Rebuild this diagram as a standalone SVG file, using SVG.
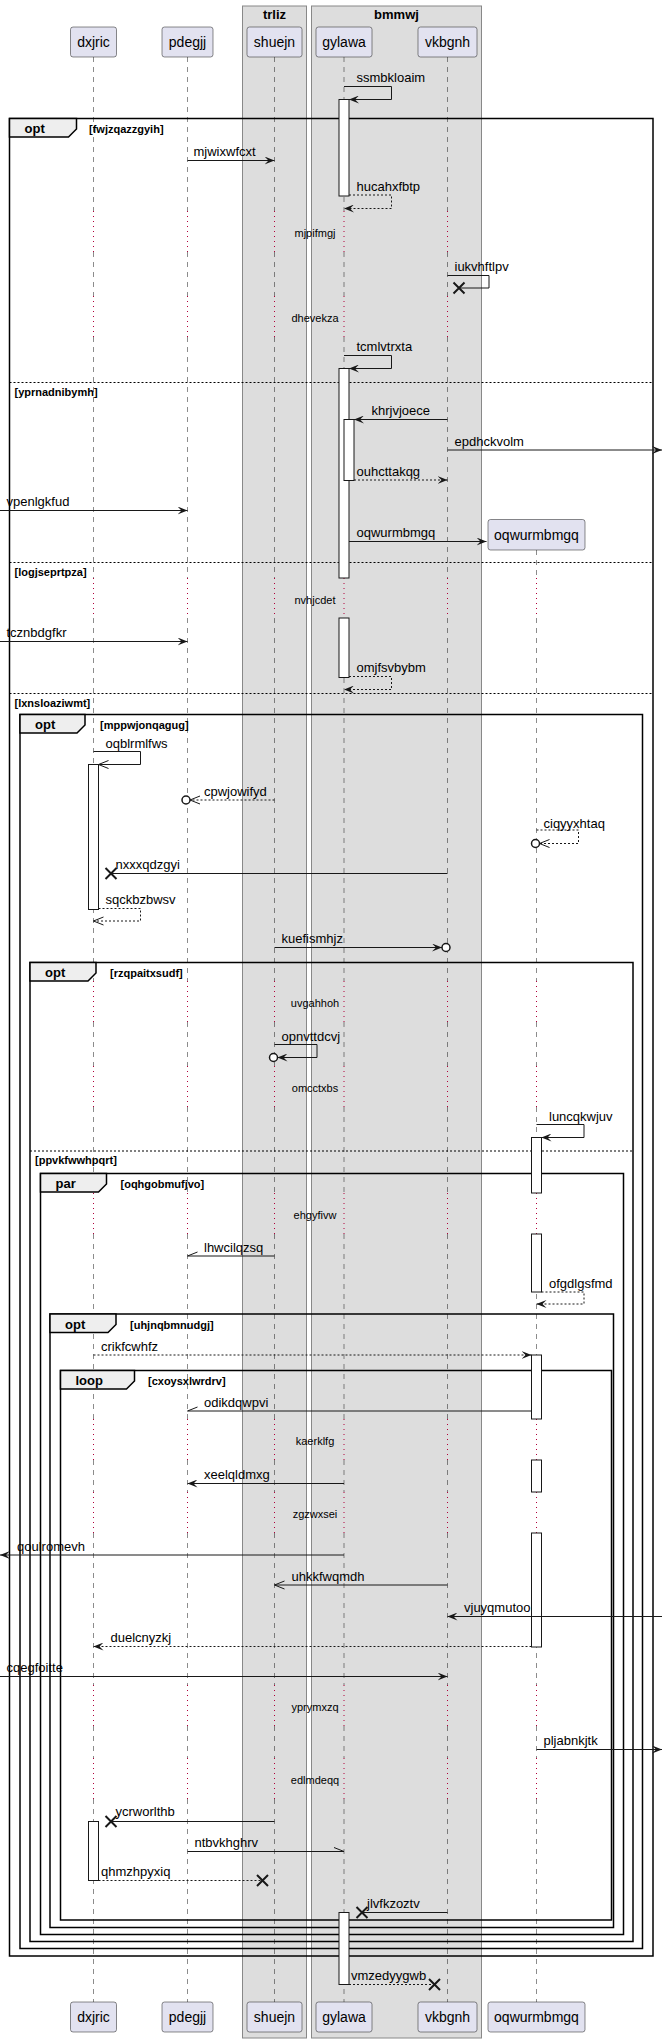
<svg xmlns="http://www.w3.org/2000/svg" xmlns:xlink="http://www.w3.org/1999/xlink" width="667" height="2043" viewBox="0 0 667 2043">
<style>
text{font-family:"Liberation Sans",Arial,sans-serif;fill:#000}
.pt{font-size:14px;text-anchor:middle}
.bt{font-size:13px;font-weight:bold;text-anchor:middle}
.m{font-size:13px}
.dt{font-size:11px;text-anchor:middle}
.ft{font-size:13px;font-weight:bold}
.c{font-size:11px;font-weight:bold}
.pbox{fill:#E2E2F0;stroke:#181818;stroke-width:0.5}
.grp{fill:#DDDDDD;stroke:#888888;stroke-width:1}
.ll{fill:none;stroke:#181818;stroke-width:0.5;stroke-dasharray:5,5}
.dl{fill:none;stroke:#B0003A;stroke-width:1;stroke-dasharray:1,4}
.act{fill:#FFFFFF;stroke:#181818;stroke-width:1}
.fr{fill:none;stroke:#000;stroke-width:1.5}
.tab{fill:#EEEEEE;stroke:#000;stroke-width:1.5}
.sep{fill:none;stroke:#000;stroke-width:1;stroke-dasharray:2,2}
.msg{fill:none;stroke:#181818;stroke-width:1}
.dash{stroke-dasharray:2,2}
.circ{fill:#FFFFFF;stroke:#181818;stroke-width:1.5}
.x{fill:none;stroke:#181818;stroke-width:2}
</style>
<defs>
<marker id="fa" viewBox="0 0 10 8" refX="10" refY="4" markerWidth="10" markerHeight="8" markerUnits="userSpaceOnUse" orient="auto"><path d="M0,0 L10,4 L0,8 L4,4 Z" fill="#181818"/></marker>
<marker id="oa" viewBox="-1 -1 12 10" refX="10" refY="4" markerWidth="12" markerHeight="10" markerUnits="userSpaceOnUse" orient="auto"><path d="M0,0 L10,4 L0,8" fill="none" stroke="#181818" stroke-width="1"/></marker>
<marker id="hr" viewBox="-1 -1 12 10" refX="10" refY="4" markerWidth="12" markerHeight="10" markerUnits="userSpaceOnUse" orient="auto"><path d="M0,0 L10,4" fill="none" stroke="#181818" stroke-width="1"/></marker>
<marker id="hl" viewBox="-1 -1 12 10" refX="10" refY="4" markerWidth="12" markerHeight="10" markerUnits="userSpaceOnUse" orient="auto"><path d="M0,8 L10,4" fill="none" stroke="#181818" stroke-width="1"/></marker>
<path id="xm" class="x" d="M-5.5,-5.5 L5.5,5.5 M-5.5,5.5 L5.5,-5.5"/>
<path id="llD" class="ll" d="M0,57 V211 M0,252 V296 M0,337 V578 M0,618 V981 M0,1022 V1066 M0,1107 V1193 M0,1234 V1419 M0,1460 V1492 M0,1533 V1685 M0,1726 V1758 M0,1799 V2002"/>
<path id="llO" class="dl" d="M0,211 V252 M0,296 V337 M0,578 V618 M0,981 V1022 M0,1066 V1107 M0,1193 V1234 M0,1419 V1460 M0,1492 V1533 M0,1685 V1726 M0,1758 V1799"/>
</defs>

<g id="boxes">
<rect class="grp" x="242.5" y="6" width="64" height="2032"/>
<text class="bt" x="274.5" y="19">trliz</text>
<rect class="grp" x="311.5" y="6" width="170" height="2032"/>
<text class="bt" x="396.5" y="19">bmmwj</text>
</g>

<g id="lifelines">
<use xlink:href="#llD" x="93.5"/><use xlink:href="#llO" x="93.5"/>
<use xlink:href="#llD" x="187.5"/><use xlink:href="#llO" x="187.5"/>
<use xlink:href="#llD" x="274.5"/><use xlink:href="#llO" x="274.5"/>
<use xlink:href="#llD" x="344"/><use xlink:href="#llO" x="344"/>
<use xlink:href="#llD" x="447.5"/><use xlink:href="#llO" x="447.5"/>
<path class="ll" d="M536.5,550 V578 M536.5,618 V981 M536.5,1022 V1066 M536.5,1107 V1193 M536.5,1234 V1419 M536.5,1460 V1492 M536.5,1533 V1685 M536.5,1726 V1758 M536.5,1799 V2002"/>
<path class="dl" d="M536.5,578 V618 M536.5,981 V1022 M536.5,1066 V1107 M536.5,1193 V1234 M536.5,1419 V1460 M536.5,1492 V1533 M536.5,1685 V1726 M536.5,1758 V1799"/>
</g>

<g id="dxjric"><rect class="pbox" x="70.5" y="27" width="46" height="30" rx="2.5"/><text class="pt" x="93.5" y="47">dxjric</text>
<rect class="pbox" x="70.5" y="2002" width="46" height="30" rx="2.5"/><text class="pt" x="93.5" y="2022">dxjric</text></g>
<g id="pdegjj"><rect class="pbox" x="162" y="27" width="51" height="30" rx="2.5"/><text class="pt" x="187.5" y="47">pdegjj</text>
<rect class="pbox" x="162" y="2002" width="51" height="30" rx="2.5"/><text class="pt" x="187.5" y="2022">pdegjj</text></g>
<g id="shuejn"><rect class="pbox" x="247" y="27" width="55" height="30" rx="2.5"/><text class="pt" x="274.5" y="47">shuejn</text>
<rect class="pbox" x="247" y="2002" width="55" height="30" rx="2.5"/><text class="pt" x="274.5" y="2022">shuejn</text></g>
<g id="gylawa"><rect class="pbox" x="316" y="27" width="56" height="30" rx="2.5"/><text class="pt" x="344" y="47">gylawa</text>
<rect class="pbox" x="316" y="2002" width="56" height="30" rx="2.5"/><text class="pt" x="344" y="2022">gylawa</text></g>
<g id="vkbgnh"><rect class="pbox" x="418" y="27" width="59" height="30" rx="2.5"/><text class="pt" x="447.5" y="47">vkbgnh</text>
<rect class="pbox" x="418" y="2002" width="59" height="30" rx="2.5"/><text class="pt" x="447.5" y="2022">vkbgnh</text></g>
<g id="oqwurmbmgq"><rect class="pbox" x="488" y="519.5" width="97" height="30.5" rx="2.5"/><text class="pt" x="536.5" y="540">oqwurmbmgq</text>
<rect class="pbox" x="488" y="2002" width="97" height="30" rx="2.5"/><text class="pt" x="536.5" y="2022">oqwurmbmgq</text></g>

<g id="frames">
<rect class="fr" x="9.5" y="118.5" width="643.5" height="1837.5"/>
<polygon class="tab" points="9.5,118.5 76.5,118.5 76.5,129 68.5,137 9.5,137"/>
<text class="ft" x="24.5" y="133">opt</text><text class="c" x="89" y="133">[fwjzqazzgyih]</text>
<line class="sep" x1="9.5" y1="382.5" x2="653" y2="382.5"/><text class="c" x="14.5" y="395.5">[yprnadnibymh]</text>
<line class="sep" x1="9.5" y1="562.5" x2="653" y2="562.5"/><text class="c" x="14.5" y="575.5">[logjseprtpza]</text>
<line class="sep" x1="9.5" y1="693.5" x2="653" y2="693.5"/><text class="c" x="14.5" y="706.5">[lxnsloaziwmt]</text>

<rect class="fr" x="20" y="714.5" width="622.5" height="1234"/>
<polygon class="tab" points="20,714.5 85,714.5 85,725 77,733 20,733"/>
<text class="ft" x="35" y="729">opt</text><text class="c" x="100" y="729">[mppwjonqagug]</text>

<rect class="fr" x="30" y="962.5" width="603" height="979"/>
<polygon class="tab" points="30,962.5 96,962.5 96,973 88,981 30,981"/>
<text class="ft" x="45" y="977">opt</text><text class="c" x="110" y="977">[rzqpaitxsudf]</text>
<line class="sep" x1="30" y1="1151" x2="633" y2="1151"/><text class="c" x="35" y="1164">[ppvkfwwhpqrt]</text>

<rect class="fr" x="40.5" y="1173.5" width="583" height="761"/>
<polygon class="tab" points="40.5,1173.5 106.5,1173.5 106.5,1184 98.5,1192 40.5,1192"/>
<text class="ft" x="55.5" y="1188">par</text><text class="c" x="120.5" y="1188">[oqhgobmufjvo]</text>

<rect class="fr" x="50" y="1314" width="563.5" height="613.5"/>
<polygon class="tab" points="50,1314 116,1314 116,1324.5 108,1332.5 50,1332.5"/>
<text class="ft" x="65" y="1328.5">opt</text><text class="c" x="130" y="1328.5">[uhjnqbmnudgj]</text>

<rect class="fr" x="60.5" y="1370.5" width="551" height="549.5"/>
<polygon class="tab" points="60.5,1370.5 134.5,1370.5 134.5,1381 126.5,1389 60.5,1389"/>
<text class="ft" x="75.5" y="1385">loop</text><text class="c" x="148" y="1385">[cxoysxlwrdrv]</text>
</g>

<g id="activations">
<rect class="act" x="339" y="99.5" width="10" height="96.5"/>
<rect class="act" x="339" y="368.5" width="10" height="209.5"/>
<rect class="act" x="339" y="618" width="10" height="59.5"/>
<rect class="act" x="344" y="419.5" width="10" height="61"/>
<rect class="act" x="88.5" y="764.5" width="10" height="145"/>
<rect class="act" x="531.5" y="1137.5" width="10" height="55.5"/>
<rect class="act" x="531.5" y="1234" width="10" height="58"/>
<rect class="act" x="531.5" y="1355" width="10" height="64"/>
<rect class="act" x="531.5" y="1460" width="10" height="32"/>
<rect class="act" x="531.5" y="1533" width="10" height="114"/>
<rect class="act" x="88.5" y="1821.5" width="10" height="59"/>
<rect class="act" x="339" y="1912.5" width="10" height="72"/>
</g>

<g id="delays">
<text class="dt" x="315" y="237">mjpifmgj</text>
<text class="dt" x="315" y="322">dhevekza</text>
<text class="dt" x="315" y="604">nvhjcdet</text>
<text class="dt" x="315" y="1006.5">uvgahhoh</text>
<text class="dt" x="315" y="1091.5">omcctxbs</text>
<text class="dt" x="315" y="1219">ehgyfivw</text>
<text class="dt" x="315" y="1445">kaerklfg</text>
<text class="dt" x="315" y="1518">zgzwxsei</text>
<text class="dt" x="315" y="1711">yprymxzq</text>
<text class="dt" x="315" y="1784">edlmdeqq</text>
</g>

<g id="connectors">
<path class="msg" d="M344,86.5 H391.5 V99.5 H349" marker-end="url(#fa)"/><text class="m" x="356.5" y="81.5">ssmbkloaim</text>
<line class="msg" x1="187.5" y1="160.5" x2="274.5" y2="160.5" marker-end="url(#fa)"/><text class="m" x="193.5" y="155.5">mjwixwfcxt</text>
<path class="msg dash" d="M349,195 H391.5 V208.5 H344" marker-end="url(#fa)"/><text class="m" x="356.5" y="191">hucahxfbtp</text>
<path class="msg" d="M447.5,275.5 H489 V288 H459"/><use xlink:href="#xm" x="459" y="288"/><text class="m" x="454.5" y="271">iukvhftlpv</text>
<path class="msg" d="M344,355.5 H391.5 V368.5 H349" marker-end="url(#fa)"/><text class="m" x="356.5" y="351">tcmlvtrxta</text>
<line class="msg" x1="447.5" y1="419.5" x2="354" y2="419.5" marker-end="url(#fa)"/><text class="m" x="371.5" y="415">khrjvjoece</text>
<line class="msg" x1="447.5" y1="450" x2="662" y2="450" marker-end="url(#fa)"/><text class="m" x="454.5" y="445.5">epdhckvolm</text>
<line class="msg dash" x1="354" y1="480" x2="447.5" y2="480" marker-end="url(#fa)"/><text class="m" x="356.5" y="476">ouhcttakqg</text>
<line class="msg" x1="0" y1="510.5" x2="187.5" y2="510.5" marker-end="url(#fa)"/><text class="m" x="6.5" y="506">vpenlgkfud</text>
<line class="msg" x1="349" y1="541.5" x2="486.5" y2="541.5" marker-end="url(#fa)"/><text class="m" x="356.5" y="537">oqwurmbmgq</text>
<line class="msg" x1="0" y1="641.5" x2="187.5" y2="641.5" marker-end="url(#fa)"/><text class="m" x="6.5" y="637">tcznbdgfkr</text>
<path class="msg dash" d="M349,676.5 H391.5 V689.5 H344" marker-end="url(#fa)"/><text class="m" x="356.5" y="672">omjfsvbybm</text>
<path class="msg" d="M93.5,751.5 H140.5 V764.5 H98.5" marker-end="url(#oa)"/><text class="m" x="105.5" y="748">oqblrmlfws</text>
<line class="msg dash" x1="274.5" y1="800" x2="190" y2="800" marker-end="url(#oa)"/><circle class="circ" cx="186" cy="800" r="4"/><text class="m" x="204" y="796">cpwjowifyd</text>
<path class="msg dash" d="M536.5,830 H578.5 V843.5 H539.5" marker-end="url(#oa)"/><circle class="circ" cx="535.5" cy="843.5" r="4"/><text class="m" x="543.5" y="827.5">ciqyyxhtaq</text>
<line class="msg" x1="447.5" y1="873.5" x2="111" y2="873.5"/><use xlink:href="#xm" x="111" y="873.5"/><text class="m" x="115.5" y="869">nxxxqdzgyi</text>
<path class="msg dash" d="M98.5,908.5 H140.5 V921 H93.5" marker-end="url(#oa)"/><text class="m" x="105.5" y="904">sqckbzbwsv</text>
<line class="msg" x1="274.5" y1="947.5" x2="442" y2="947.5" marker-end="url(#fa)"/><circle class="circ" cx="446" cy="947.5" r="4"/><text class="m" x="281.5" y="942.5">kuefismhjz</text>
<path class="msg" d="M274.5,1044.5 H317 V1057.5 H277.5" marker-end="url(#fa)"/><circle class="circ" cx="273.5" cy="1057.5" r="4"/><text class="m" x="281.5" y="1041">opnvttdcvj</text>
<path class="msg" d="M536.5,1124.5 H584 V1137.5 H541.5" marker-end="url(#fa)"/><text class="m" x="549" y="1121">luncqkwjuv</text>
<line class="msg" x1="274.5" y1="1256" x2="187.5" y2="1256" marker-end="url(#hl)"/><text class="m" x="204" y="1252">lhwcilqzsq</text>
<path class="msg dash" d="M541.5,1292 H584 V1304 H536.5" marker-end="url(#fa)"/><text class="m" x="549" y="1287.5">ofgdlgsfmd</text>
<line class="msg dash" x1="93.5" y1="1355" x2="531.5" y2="1355" marker-end="url(#fa)"/><text class="m" x="101" y="1350.5">crikfcwhfz</text>
<line class="msg" x1="531.5" y1="1411" x2="187.5" y2="1411" marker-end="url(#hl)"/><text class="m" x="204" y="1407">odikdqwpvi</text>
<line class="msg" x1="344" y1="1483.5" x2="187.5" y2="1483.5" marker-end="url(#fa)"/><text class="m" x="204" y="1479">xeelqldmxg</text>
<line class="msg" x1="344" y1="1555" x2="0" y2="1555" marker-end="url(#fa)"/><text class="m" x="17" y="1551">qoulromevh</text>
<line class="msg" x1="447.5" y1="1585" x2="274.5" y2="1585" marker-end="url(#oa)"/><text class="m" x="291.5" y="1581">uhkkfwqmdh</text>
<line class="msg" x1="662" y1="1616.5" x2="447.5" y2="1616.5" marker-end="url(#fa)"/><text class="m" x="464" y="1611.5">vjuyqmutoo</text>
<line class="msg dash" x1="531.5" y1="1646.5" x2="93.5" y2="1646.5" marker-end="url(#fa)"/><text class="m" x="110.5" y="1642">duelcnyzkj</text>
<line class="msg" x1="0" y1="1676.5" x2="447.5" y2="1676.5" marker-end="url(#fa)"/><text class="m" x="6.5" y="1672">cqegfoitte</text>
<line class="msg" x1="536.5" y1="1749.5" x2="662" y2="1749.5" marker-end="url(#fa)"/><text class="m" x="543.5" y="1744.5">pljabnkjtk</text>
<line class="msg" x1="274.5" y1="1821.5" x2="111" y2="1821.5"/><use xlink:href="#xm" x="111" y="1821.5"/><text class="m" x="115.5" y="1816">ycrworlthb</text>
<line class="msg" x1="187.5" y1="1851.5" x2="344" y2="1851.5" marker-end="url(#hr)"/><text class="m" x="194.5" y="1847">ntbvkhghrv</text>
<line class="msg dash" x1="98.5" y1="1880.5" x2="262.5" y2="1880.5"/><use xlink:href="#xm" x="262.5" y="1880.5"/><text class="m" x="101" y="1876">qhmzhpyxiq</text>
<line class="msg" x1="447.5" y1="1912.5" x2="362" y2="1912.5"/><use xlink:href="#xm" x="362" y="1912.5"/><text class="m" x="367" y="1907.5">jlvfkzoztv</text>
<line class="msg dash" x1="349" y1="1984.5" x2="434.5" y2="1984.5"/><use xlink:href="#xm" x="434.5" y="1984.5"/><text class="m" x="351" y="1980">vmzedyygwb</text>
</g>
</svg>
